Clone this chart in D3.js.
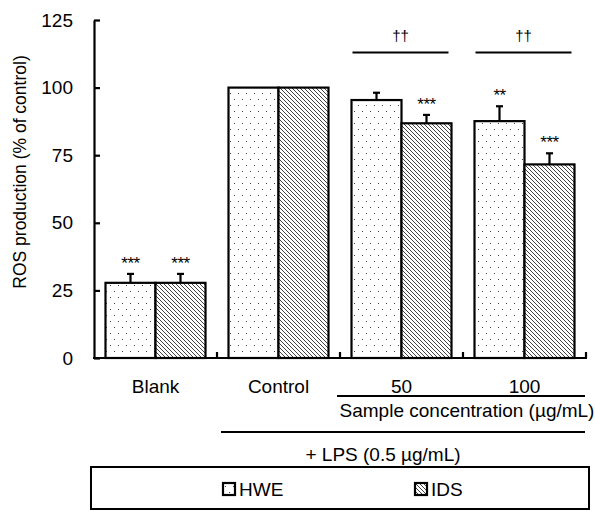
<!DOCTYPE html>
<html>
<head>
<meta charset="utf-8">
<script src="https://cdn.jsdelivr.net/npm/d3@7"></script>
<style>
  body { margin: 0; background: #fff; }
  svg { display: block; font-family: "Liberation Sans", Arial, sans-serif; }
</style>
</head>
<body>
<div id="chart"></div>
<script>
const categories = ["Blank", "Control", "50", "100"];
const series = ["HWE", "IDS"];
const hweMeans = [27.8, 100, 95.4, 87.6];
const idsMeans = [27.8, 100, 86.8, 71.6];
const hweErr = [3.3, 0, 2.7, 5.5];
const idsErr = [3.3, 0, 3.1, 4.1];
const hweStars = ["***", "", "", "**"];
const idsStars = ["***", "", "***", "***"];
const daggers = ["", "", "††", "††"];
const yTicks = [0, 25, 50, 75, 100, 125];

const W = 595, H = 511;
const FS = 19;
const svg = d3.select("#chart").append("svg")
    .attr("width", W).attr("height", H);

// patterns
const defs = svg.append("defs");
const dots = defs.append("pattern")
    .attr("id", "dots")
    .attr("patternUnits", "userSpaceOnUse")
    .attr("width", 8).attr("height", 12);
dots.append("rect").attr("width", 8).attr("height", 12).attr("fill", "#fff");
dots.append("rect").attr("x", 2).attr("y", 3).attr("width", 1).attr("height", 1).attr("fill", "#444");
dots.append("rect").attr("x", 6).attr("y", 9).attr("width", 1).attr("height", 1).attr("fill", "#444");

const hatch = defs.append("pattern")
    .attr("id", "hatch")
    .attr("patternUnits", "userSpaceOnUse")
    .attr("width", 4).attr("height", 4);
hatch.append("rect").attr("width", 4).attr("height", 4).attr("fill", "#fff");
hatch.append("path")
    .attr("d", "M-1,-1 L5,5 M-1,3 L1,5 M3,-1 L5,1")
    .attr("stroke", "#444").attr("stroke-width", 1);

const fills = {HWE: "url(#dots)", IDS: "url(#hatch)"};

const x0 = d3.scaleBand().domain(categories).range([94, 586]).padding(0);
const x1 = d3.scaleBand().domain(series).range([0, x0.bandwidth()])
    .paddingInner(0).paddingOuter(0.23);
const y = d3.scaleLinear().domain([0, 125]).range([358, 20]);

const rows = [];
categories.forEach((c, i) => {
  rows.push({cat: c, s: "HWE", v: hweMeans[i], e: hweErr[i], star: hweStars[i]});
  rows.push({cat: c, s: "IDS", v: idsMeans[i], e: idsErr[i], star: idsStars[i]});
});

// bars
svg.append("g").selectAll("rect")
  .data(rows).join("rect")
    .attr("x", d => x0(d.cat) + x1(d.s))
    .attr("y", d => y(d.v))
    .attr("width", x1.bandwidth())
    .attr("height", d => y(0) - y(d.v))
    .attr("fill", d => fills[d.s])
    .attr("stroke", "#000")
    .attr("stroke-width", 2.2);

// error bars
const eb = svg.append("g").selectAll("g")
  .data(rows.filter(d => d.e > 0)).join("g")
    .attr("transform", d => `translate(${x0(d.cat) + x1(d.s) + x1.bandwidth() / 2},0)`);
eb.append("line")
    .attr("y1", d => y(d.v)).attr("y2", d => y(d.v + d.e))
    .attr("stroke", "#000").attr("stroke-width", 2.2);
eb.append("line")
    .attr("x1", -3.5).attr("x2", 3.5)
    .attr("y1", d => y(d.v + d.e)).attr("y2", d => y(d.v + d.e))
    .attr("stroke", "#000").attr("stroke-width", 2.2);

// stars
svg.append("g").selectAll("text")
  .data(rows.filter(d => d.star)).join("text")
    .attr("x", d => x0(d.cat) + x1(d.s) + x1.bandwidth() / 2)
    .attr("y", d => y(d.v + d.e) - 5)
    .attr("text-anchor", "middle")
    .attr("font-size", 17)
    .attr("letter-spacing", -0.5)
    .text(d => d.star);

// significance lines with daggers
const sigY = y(113);
categories.forEach((c, i) => {
  if (!daggers[i]) return;
  const xa = x0(c) + x1("HWE") + 1, xb = x0(c) + x1("IDS") + x1.bandwidth() - 3;
  svg.append("line")
      .attr("x1", xa).attr("x2", xb).attr("y1", sigY).attr("y2", sigY)
      .attr("stroke", "#000").attr("stroke-width", 2);
  svg.append("text")
      .attr("x", (xa + xb) / 2).attr("y", sigY - 11)
      .attr("text-anchor", "middle").attr("font-size", 15)
      .text(daggers[i]);
});

// y axis
const yAxis = svg.append("g")
    .attr("transform", "translate(94,0)")
    .call(d3.axisLeft(y).tickValues(yTicks).tickSizeInner(-6).tickSizeOuter(0).tickPadding(21));
yAxis.select(".domain").attr("stroke-width", 2.2);
yAxis.selectAll(".tick line").attr("stroke-width", 2.2);
yAxis.selectAll(".tick text").attr("font-size", FS)
    .attr("font-family", "Liberation Sans, Arial, sans-serif").attr("fill", "#000");

// x baseline and separator ticks
svg.append("line")
    .attr("x1", 93).attr("x2", x0.range()[1] + 1).attr("y1", y(0)).attr("y2", y(0))
    .attr("stroke", "#000").attr("stroke-width", 2.2);
svg.append("g").selectAll("line")
  .data(categories).join("line")
    .attr("x1", d => x0(d) + x0.bandwidth()).attr("x2", d => x0(d) + x0.bandwidth())
    .attr("y1", y(0)).attr("y2", y(0) - 6)
    .attr("stroke", "#000").attr("stroke-width", 2.2);

// category labels
svg.append("g").selectAll("text")
  .data(categories).join("text")
    .attr("x", d => x0(d) + x0.bandwidth() / 2)
    .attr("y", 393)
    .attr("text-anchor", "middle")
    .attr("font-size", FS)
    .text(d => d);

// grouping lines below axis
svg.append("line")
    .attr("x1", x0("50") - 3).attr("x2", x0.range()[1] - 1).attr("y1", 396).attr("y2", 396)
    .attr("stroke", "#000").attr("stroke-width", 2);
svg.append("text")
    .attr("x", 467).attr("y", 417)
    .attr("text-anchor", "middle").attr("font-size", FS)
    .text("Sample concentration (µg/mL)");
svg.append("line")
    .attr("x1", x0("Control") + 4).attr("x2", x0.range()[1] - 1).attr("y1", 432).attr("y2", 432)
    .attr("stroke", "#000").attr("stroke-width", 2);
svg.append("text")
    .attr("x", 383).attr("y", 461)
    .attr("text-anchor", "middle").attr("font-size", FS)
    .text("+ LPS (0.5 µg/mL)");

// y label
svg.append("text")
    .attr("transform", "translate(26,172) rotate(-90)")
    .attr("text-anchor", "middle").attr("font-size", 17.5)
    .text("ROS production (% of control)");

// legend
svg.append("rect")
    .attr("x", 91).attr("y", 467).attr("width", 498).attr("height", 42)
    .attr("fill", "none").attr("stroke", "#000").attr("stroke-width", 2);
const legX = [223, 415];
const leg = svg.append("g").selectAll("g")
  .data(series).join("g")
    .attr("transform", (d, i) => `translate(${legX[i]},483)`);
leg.append("rect")
    .attr("width", 12).attr("height", 12)
    .attr("fill", d => fills[d]).attr("stroke", "#000").attr("stroke-width", 2.2);
leg.append("text")
    .attr("x", 16).attr("y", 12.5).attr("font-size", FS)
    .text(d => d);
</script>
</body>
</html>
